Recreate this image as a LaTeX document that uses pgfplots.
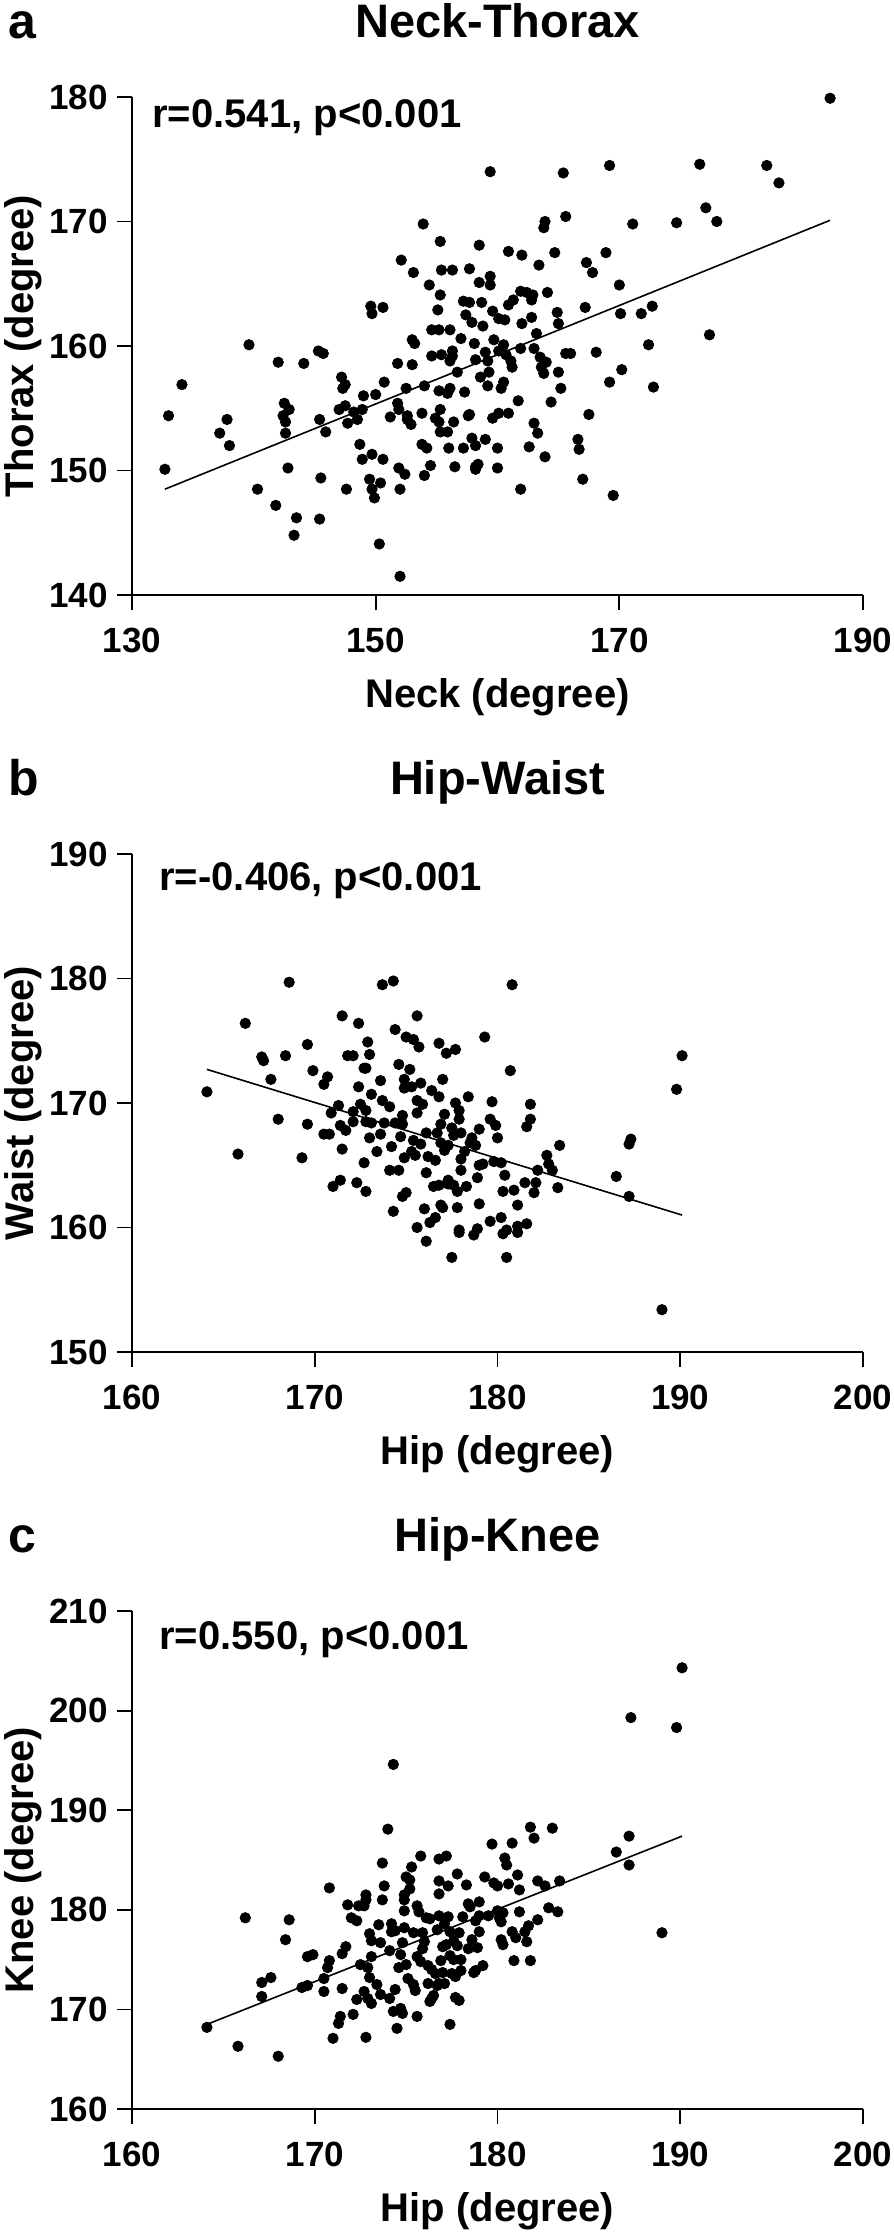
\documentclass[border=0pt]{standalone}
\usepackage{fontspec}
\setmainfont{Liberation Sans}
\usepackage{pgfplots}
\pgfplotsset{compat=1.18}
\pgfplotsset{
  myaxis/.style={
    scale only axis, width=365.5pt, height=249pt,
    anchor=south west,
    axis lines*=left,
    axis line style={line width=0.9pt, black},
    tick align=outside,
    major tick length=7.5pt,
    every tick/.style={line width=0.9pt, black},
    /pgf/number format/assume math mode=true,
    /pgf/number format/1000 sep={},
    ticklabel style={font=\fontsize{17.5}{20}\selectfont\bfseries, inner sep=0pt},
    xticklabel style={anchor=base, yshift=-21pt},
    yticklabel style={anchor=east, xshift=-4.5pt},
    label style={font=\fontsize{20}{24}\selectfont\bfseries, inner sep=0pt},
    xlabel style={at={(axis description cs:0.5,-0.2249)}, anchor=base},
    ylabel style={at={(axis description cs:-0.1354,0.5)}, anchor=base},
    clip=false,
  },
  dots/.style={only marks, mark=*, mark size=2.6pt, mark options={fill=black, draw=none}},
  fit/.style={no marks, black, line width=0.8pt},
}
\begin{document}
\begin{tikzpicture}
\path[use as bounding box] (0pt,0pt) rectangle (447pt,-1117pt);
% ---------------- panel a ----------------
\begin{axis}[myaxis, at={(66pt,-297.5pt)},
  xmin=130, xmax=190, ymin=140, ymax=180,
  xtick={130,150,170,190}, ytick={140,150,160,170,180},
  xlabel={Neck (degree)}, ylabel={Thorax (degree)}]
\addplot[dots] table {
132.7 150.1
133.0 154.4
134.1 156.9
137.2 153.0
137.8 154.1
138.0 152.0
139.6 160.1
140.3 148.5
141.8 147.2
142.0 158.7
142.5 155.4
142.4 154.4
142.6 153.9
142.9 154.9
142.6 153.0
142.8 150.2
143.3 144.8
143.5 146.2
144.1 158.6
145.3 159.6
145.7 159.4
145.4 154.1
145.5 149.4
145.4 146.1
145.9 153.1
147.2 157.5
147.3 156.6
147.5 156.9
147.0 154.9
147.5 155.2
147.7 153.8
147.6 148.5
148.2 154.7
148.5 154.1
148.7 152.1
148.9 150.9
149.0 156.0
148.9 154.9
149.5 149.3
149.6 163.2
149.7 162.6
150.6 163.1
149.7 151.3
149.7 148.5
149.9 147.8
150.0 156.1
150.4 149.0
150.3 144.1
150.6 150.9
150.7 157.1
151.2 154.3
151.8 158.6
151.8 155.4
151.9 154.9
151.9 150.2
152.0 148.5
152.0 141.5
152.1 166.9
152.4 149.7
152.5 156.6
152.6 154.4
152.6 154.1
152.9 153.7
153.0 158.5
153.0 160.5
153.2 160.2
153.1 165.9
153.8 154.6
153.9 169.8
154.0 156.8
154.0 149.6
153.8 152.1
154.2 151.8
154.4 164.9
154.5 150.4
154.6 159.2
154.6 161.3
154.9 154.2
155.1 162.9
155.2 161.3
155.2 156.4
155.3 164.1
155.4 166.1
155.3 168.4
155.2 153.9
155.3 154.9
155.3 153.1
155.4 159.3
155.9 153.1
155.9 156.2
156.0 151.8
156.1 161.3
156.1 156.6
156.1 158.8
156.3 166.1
156.3 159.2
156.3 159.6
156.4 153.9
156.5 150.3
156.7 157.9
157.0 160.6
157.2 163.6
157.3 156.3
157.2 151.8
157.4 162.5
157.7 166.2
157.7 163.5
157.6 154.4
157.7 154.5
157.9 161.9
157.9 152.6
158.1 160.2
158.2 152.0
158.2 150.3
158.2 150.1
158.4 150.5
158.2 158.9
158.5 168.1
158.5 165.1
158.6 157.5
158.7 163.5
158.8 161.6
159.0 152.5
159.0 159.5
159.2 158.8
159.2 156.8
159.3 157.9
159.4 165.6
159.4 164.9
159.4 174.0
159.6 162.8
159.6 154.2
159.7 160.5
160.0 151.8
160.0 150.2
160.1 159.6
160.1 162.2
160.1 154.6
160.3 156.6
160.5 157.1
160.5 160.1
160.6 162.1
160.7 159.3
160.9 163.3
160.9 154.6
160.9 167.6
161.1 158.8
161.2 158.3
161.3 163.7
161.7 155.6
161.9 148.5
161.9 159.8
162.0 167.3
162.0 161.8
161.9 164.4
162.4 164.3
162.6 151.9
162.8 163.7
162.8 162.3
162.9 164.1
163.0 159.8
163.0 153.8
163.2 161.0
163.3 153.0
163.4 166.5
163.5 159.1
163.6 158.3
163.8 157.8
163.8 169.5
163.9 170.0
163.9 151.1
164.0 158.7
164.1 164.3
164.4 155.5
164.7 167.5
164.9 162.7
165.0 161.8
165.0 157.9
165.2 156.6
165.4 173.9
165.6 170.4
165.6 159.4
166.0 159.4
166.6 152.5
166.7 151.7
167.0 149.3
167.2 163.1
167.3 166.7
167.5 154.5
167.8 165.9
168.1 159.5
168.9 167.5
169.2 174.5
169.2 157.1
169.5 148.0
170.0 164.9
170.1 162.6
170.2 158.1
171.1 169.8
171.8 162.6
172.4 160.1
172.7 163.2
172.8 156.7
174.7 169.9
176.6 174.6
177.1 171.1
177.4 160.9
178.0 170.0
182.1 174.5
183.1 173.1
187.3 179.9
};
\addplot[fit] coordinates {(132.7,148.5) (187.3,170.1)};
\end{axis}
% ---------------- panel b ----------------
\begin{axis}[myaxis, at={(66pt,-676pt)},
  xmin=160, xmax=200, ymin=150, ymax=190,
  xtick={160,170,180,190,200}, ytick={150,160,170,180,190},
  xlabel={Hip (degree)}, ylabel={Waist (degree)}]
\addplot[dots] table {
164.1 170.9
165.8 165.9
166.2 176.4
167.1 173.7
167.2 173.4
167.6 171.9
168.0 168.7
168.4 173.8
168.6 179.7
169.3 165.6
169.6 168.3
169.6 174.7
169.9 172.6
170.5 171.5
170.7 172.1
170.5 167.5
170.8 167.5
170.9 169.2
171.0 163.3
171.3 169.8
171.4 163.8
171.5 177.0
171.5 166.3
171.4 168.2
171.7 167.8
171.8 173.8
172.1 173.8
172.1 169.3
172.1 168.5
172.3 163.6
172.4 171.3
172.4 176.4
172.5 169.9
172.7 172.8
172.7 165.2
172.8 172.8
172.8 168.5
172.8 162.9
172.8 169.4
172.9 174.9
173.0 173.9
173.0 167.2
173.1 168.4
173.1 170.7
173.4 166.1
173.6 171.8
173.6 167.5
173.7 179.5
173.7 170.2
173.8 168.4
174.1 169.7
174.2 166.5
174.1 164.6
174.3 179.8
174.3 161.3
174.4 175.9
174.4 168.4
174.6 173.1
174.6 164.6
174.7 167.3
174.8 169.0
174.8 168.3
174.8 162.5
174.9 165.6
174.9 171.9
175.0 175.3
174.9 171.2
175.0 162.8
175.2 172.7
175.3 166.1
175.3 171.3
175.4 175.1
175.4 167.0
175.5 165.8
175.6 169.2
175.6 170.2
175.6 177.0
175.6 160.0
175.7 174.5
175.8 166.7
175.8 171.6
175.9 169.9
176.0 161.5
176.1 158.9
176.1 164.4
176.1 167.6
176.2 165.7
176.3 160.4
176.5 163.3
176.4 171.0
176.6 160.8
176.6 165.4
176.7 167.6
176.8 163.4
176.8 170.5
176.8 174.8
176.9 166.8
176.9 168.3
176.9 161.8
177.0 161.6
177.0 171.9
177.1 169.1
177.1 166.2
177.2 174.0
177.3 166.6
177.3 163.5
177.3 163.8
177.5 157.6
177.5 168.0
177.6 167.4
177.6 163.4
177.7 170.0
177.7 174.3
177.8 162.9
177.8 161.6
177.9 159.8
177.9 159.6
177.9 169.4
177.9 168.7
178.0 167.6
178.0 165.5
178.0 164.6
178.2 166.1
178.3 163.3
178.4 170.5
178.5 166.8
178.6 167.2
178.7 159.4
178.8 166.6
178.9 159.9
179.0 161.9
178.9 164.0
179.0 165.0
179.0 167.9
179.2 165.1
179.3 175.3
179.6 168.7
179.7 170.1
179.6 160.5
179.8 165.3
179.9 168.2
180.0 167.2
180.2 165.2
180.2 160.8
180.3 159.5
180.3 162.9
180.4 164.2
180.5 157.6
180.5 159.8
180.7 172.6
180.8 179.5
180.9 163.0
181.1 161.8
181.1 159.6
181.1 160.1
181.5 163.6
181.6 160.3
181.6 168.1
181.8 168.7
181.8 169.9
182.0 162.8
182.1 163.6
182.2 164.6
182.7 165.8
182.8 165.1
183.0 164.6
183.3 163.2
183.4 166.6
186.5 164.1
187.2 166.7
187.3 167.1
187.2 162.5
189.0 153.4
189.8 171.1
190.1 173.8
};
\addplot[fit] coordinates {(164.1,172.7) (190.1,161.0)};
\end{axis}
% ---------------- panel c ----------------
\begin{axis}[myaxis, at={(66pt,-1054.5pt)},
  xmin=160, xmax=200, ymin=160, ymax=210,
  xtick={160,170,180,190,200}, ytick={160,170,180,190,200,210},
  xlabel={Hip (degree)}, ylabel={Knee (degree)}]
\addplot[dots] table {
164.1 168.2
165.8 166.3
166.2 179.2
167.1 172.7
167.6 173.2
167.1 171.3
168.0 165.3
168.4 177.0
168.6 179.0
169.3 172.2
169.6 172.4
169.6 175.3
169.9 175.5
170.5 173.1
170.5 171.8
170.8 174.9
170.7 174.2
170.8 182.2
171.0 167.1
171.4 169.3
171.3 168.6
171.5 172.1
171.5 175.6
171.7 176.3
171.8 180.5
172.0 179.2
172.1 169.5
172.3 178.9
172.3 171.0
172.4 180.4
172.5 174.5
172.7 180.4
172.7 171.8
172.8 167.2
172.8 181.5
172.8 181.0
172.9 171.1
172.9 174.2
173.0 177.6
173.0 173.2
173.1 170.6
173.1 176.9
173.1 175.3
173.4 172.5
173.5 178.5
173.6 176.7
173.6 171.5
173.7 184.7
173.7 181.0
173.8 182.4
174.0 188.1
174.1 171.1
174.1 175.9
174.2 177.8
174.2 178.6
174.3 169.8
174.3 194.6
174.4 172.0
174.4 177.9
174.5 168.1
174.6 174.2
174.7 175.5
174.7 170.1
174.8 169.6
174.8 176.7
174.9 178.2
174.9 181.5
174.9 179.9
174.9 181.0
175.0 183.3
175.0 174.5
175.1 173.1
175.2 183.0
175.2 182.1
175.3 184.3
175.4 172.5
175.4 177.7
175.5 171.9
175.6 180.4
175.6 169.3
175.6 175.3
175.7 179.8
175.8 174.8
175.8 185.4
175.9 177.7
175.9 176.1
176.0 176.8
176.1 179.2
176.2 174.4
176.2 172.6
176.3 170.8
176.3 179.1
176.4 171.1
176.4 174.0
176.5 171.4
176.6 173.6
176.7 172.4
176.7 178.0
176.8 185.1
176.8 181.6
176.8 182.9
176.8 179.4
176.8 172.6
176.9 174.9
177.0 173.7
177.0 176.3
177.1 178.6
177.1 172.6
177.2 185.4
177.2 176.5
177.3 179.3
177.3 182.4
177.4 168.5
177.4 177.8
177.4 175.4
177.5 173.6
177.6 176.9
177.6 175.0
177.7 171.2
177.7 173.3
177.8 183.6
177.8 176.4
177.9 170.9
177.9 177.7
178.0 173.9
178.0 175.0
178.1 179.3
178.3 182.5
178.4 180.6
178.4 176.1
178.5 180.3
178.6 177.0
178.7 173.7
178.8 173.9
178.8 178.9
178.9 176.2
179.0 180.8
179.0 177.8
179.0 179.4
179.2 174.4
179.3 183.3
179.5 179.4
179.7 186.6
179.8 182.7
180.0 182.4
180.0 179.9
180.1 179.2
180.2 178.8
180.2 177.0
180.3 179.7
180.3 176.5
180.4 185.2
180.5 184.5
180.6 182.6
180.8 186.7
180.8 177.8
180.9 174.9
181.0 177.2
181.1 183.5
181.2 182.0
181.2 179.8
181.5 177.8
181.6 176.8
181.7 178.4
181.8 188.3
181.8 174.9
182.0 187.2
182.2 179.0
182.2 182.9
182.6 182.4
182.8 180.2
183.0 188.2
183.3 179.8
183.4 182.9
186.5 185.8
187.2 187.4
187.2 184.5
187.3 199.3
189.0 177.7
189.8 198.3
190.1 204.3
};
\addplot[fit] coordinates {(164.1,168.5) (190.1,187.4)};
\end{axis}
% ---------------- titles and annotations ----------------
\begin{scope}[every node/.style={inner sep=0pt}]
\node[anchor=base west, font=\fontsize{25}{30}\selectfont\bfseries] at (4pt,-19pt) {a};
\node[anchor=base, font=\fontsize{23.5}{28}\selectfont\bfseries] at (248.75pt,-18.5pt) {Neck-Thorax};
\node[anchor=base west, font=\fontsize{20}{24}\selectfont\bfseries] at (76pt,-63.5pt) {r=0.541, p<0.001};
\node[anchor=base west, font=\fontsize{25}{30}\selectfont\bfseries] at (4pt,-397.5pt) {b};
\node[anchor=base, font=\fontsize{23.5}{28}\selectfont\bfseries] at (248.75pt,-397pt) {Hip-Waist};
\node[anchor=base west, font=\fontsize{20}{24}\selectfont\bfseries] at (79.5pt,-445pt) {r=-0.406, p<0.001};
\node[anchor=base west, font=\fontsize{25}{30}\selectfont\bfseries] at (4pt,-776pt) {c};
\node[anchor=base, font=\fontsize{23.5}{28}\selectfont\bfseries] at (248.75pt,-775.5pt) {Hip-Knee};
\node[anchor=base west, font=\fontsize{20}{24}\selectfont\bfseries] at (79.5pt,-824.5pt) {r=0.550, p<0.001};
\end{scope}
\end{tikzpicture}
\end{document}
